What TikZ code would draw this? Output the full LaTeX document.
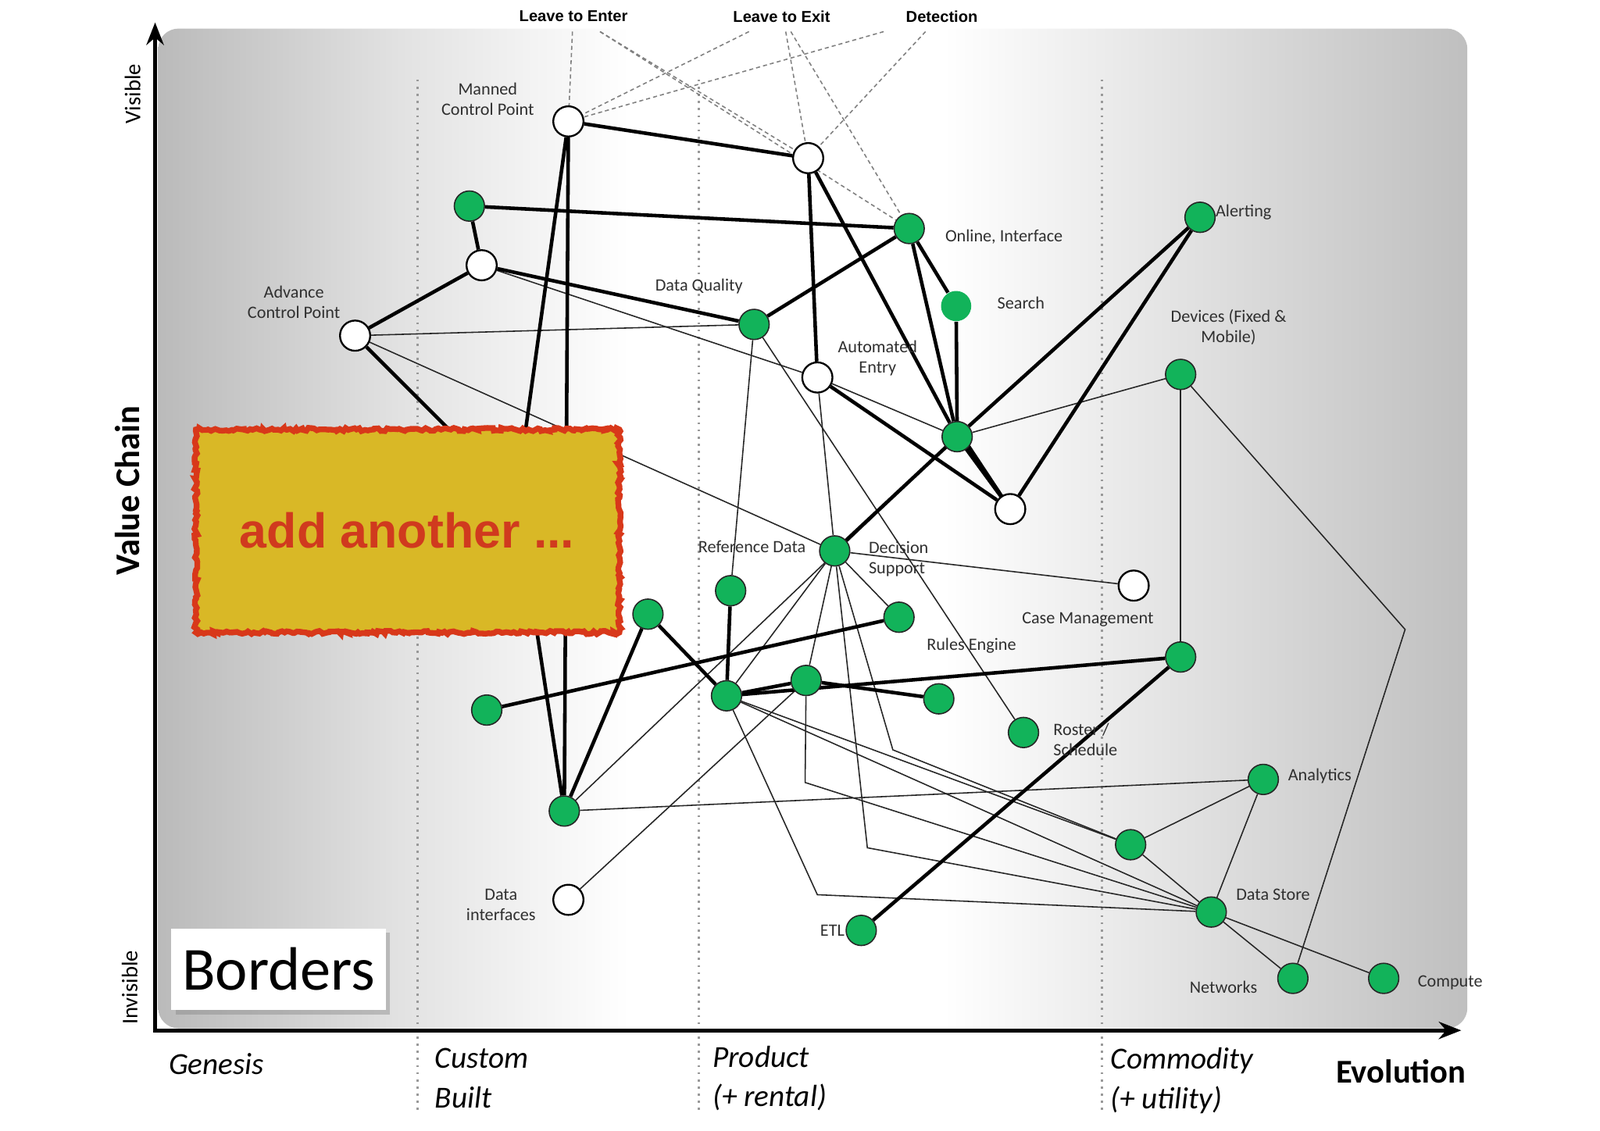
\documentclass[tikz,border=0pt]{standalone}
\usepackage{fontspec}
\setmainfont{Carlito}
\newfontfamily\arialf{Liberation Sans}
\usetikzlibrary{arrows.meta,shadows,decorations.pathmorphing,calc}
\definecolor{nodegreen}{HTML}{12B35A}
\definecolor{boxyellow}{HTML}{D9B826}
\definecolor{boxred}{HTML}{D8381A}
\definecolor{txtred}{HTML}{D03A1E}
\definecolor{labgray}{HTML}{303030}
\pgfdeclarelayer{bg}
\pgfdeclarelayer{edges}
\pgfsetlayers{bg,edges,main}
\pgfdeclarehorizontalshading{panelshade}{100bp}{color(0bp)=(gray!54!white); color(25bp)=(gray!54!white); color(34.5bp)=(gray!22!white); color(43bp)=(white); color(55bp)=(white); color(75bp)=(gray!50!white); color(100bp)=(gray!50!white)}
\tikzset{
  gn/.style={circle, fill=nodegreen, draw=black!85, line width=0.6pt, minimum size=14.8pt, inner sep=0pt},
  wn/.style={circle, fill=white, draw=black, line width=0.9pt, minimum size=14.8pt, inner sep=0pt},
  lab/.style={font=\fontsize{8.5}{10}\selectfont, text=labgray, align=center, inner sep=0pt},
  toplab/.style={font=\arialf\bfseries\fontsize{7.7}{9}\selectfont, inner sep=0pt},
  axlab/.style={font=\itshape\fontsize{15}{19.5}\selectfont, align=left, inner sep=0pt},
  thk/.style={line width=1.75pt, black},
  thn/.style={line width=0.6pt, black!85},
  dsh/.style={line width=0.6pt, gray, dash pattern=on 2pt off 1.5pt},
  sepline/.style={line width=1pt, gray!80, dash pattern=on 1pt off 2.5pt},
  axis/.style={line width=1.8pt, black, -{Stealth[length=11pt,width=8.5pt]}},
}
\begin{document}
\begin{tikzpicture}[x=0.5pt, y=-0.5pt]
\useasboundingbox (0,0) rectangle (1568,1108);

% background panel
\begin{pgfonlayer}{bg}
\shade[shading=panelshade, rounded corners=10pt] (155,28) rectangle (1438,1008);
\draw[sepline] (409,78) -- (409,1088);
\draw[sepline] (685,78) -- (685,1090);
\draw[sepline] (1080,78) -- (1080,1090);
\end{pgfonlayer}

% axes
\coordinate (origin) at (152,1010);
\coordinate (ytip) at (152,22);
\coordinate (xstart) at (150,1010);
\coordinate (xtip) at (1432,1010);
\draw[axis] ([yshift=-0.9pt]origin) -- (ytip);
\draw[axis] (xstart) -- (xtip);

% axis labels
\node[font=\fontsize{11}{13}\selectfont, rotate=90] (visible) at (130,92) {Visible};
\node[font=\bfseries\fontsize{17}{20}\selectfont, rotate=90] (vchain) at (125,481) {Value Chain};
\node[font=\fontsize{11}{13}\selectfont, rotate=90] (invisible) at (127,968) {Invisible};
\node[axlab] (genesis) at (212,1043) {Genesis};
\node[axlab, anchor=west] (custom) at (426,1057) {Custom\\Built};
\node[axlab, anchor=west] (product) at (698,1057) {Product\\(+ rental)};
\node[axlab, anchor=west] (commodity) at (1088,1059) {Commodity\\(+ utility)};
\node[font=\bfseries\fontsize{16.3}{19}\selectfont] (evolution) at (1373,1050) {Evolution};

% top labels
\node[toplab] (l2e) at (562,16) {Leave to Enter};
\node[toplab] (l2x) at (766,16) {Leave to Exit};
\node[toplab] (det) at (923,16) {Detection};
\coordinate (tE1) at (561,31);
\coordinate (tE2) at (588,31);
\coordinate (tX1) at (734,31);
\coordinate (tX2) at (770,31);
\coordinate (tX3) at (775,31);
\coordinate (tD1) at (866,31);
\coordinate (tD2) at (907,31);

% nodes
\node[wn] (mcp) at (557,119) {};
\node[wn] (le) at (792,155) {};
\node[wn] (wthree) at (472,260) {};
\node[wn] (acp) at (348,329) {};
\node[wn] (ae) at (801,370) {};
\node[wn] (wsix) at (990,499) {};
\node[wn] (cm) at (1111,574) {};
\node[wn] (di) at (557,882) {};

\node[gn] (gone) at (460,202) {};
\node[gn] (oi) at (891,224) {};
\node[gn, draw=none] (srch) at (937,300) {};
\node[gn] (dq) at (739,318) {};
\node[gn] (alert) at (1176,213) {};
\node[gn] (dev) at (1157,367) {};
\node[gn] (gseven) at (938,428) {};
\node[gn] (rd) at (818,540) {};
\node[gn] (gnine) at (716,579) {};
\node[gn] (gten) at (635,602) {};
\node[gn] (re) at (881,605) {};
\node[gn] (gtwelve) at (1157,644) {};
\node[gn] (gthirteen) at (477,696) {};
\node[gn] (gfourteen) at (712,682) {};
\node[gn] (gfifteen) at (790,667) {};
\node[gn] (gsixteen) at (920,685) {};
\node[gn] (roster) at (1003,718) {};
\node[gn] (analytics) at (1238,764) {};
\node[gn] (gnineteen) at (553,795) {};
\node[gn] (gtwenty) at (1108,828) {};
\node[gn] (dstore) at (1187,894) {};
\node[gn] (etl) at (844,912) {};
\node[gn] (networks) at (1267,959) {};
\node[gn] (compute) at (1356,959) {};

% bend points / hidden junction
\coordinate (hid) at (506,487);
\coordinate (bA) at (875,735);
\coordinate (bB) at (789,767);
\coordinate (bC) at (850,831);
\coordinate (bD) at (801,877);
\coordinate (bdev) at (1377,617);

% node labels
\node[lab] (lmcp) at (478,97) {Manned\\Control Point};
\node[lab] (lacp) at (288,296) {Advance\\Control Point};
\node[lab] (ldq) at (685,281) {Data Quality};
\node[lab, anchor=west] (loi) at (926,232) {Online, Interface};
\node[lab, anchor=west] (lsrch) at (977,297) {Search};
\node[lab] (lae) at (860,351) {Automated\\Entry};
\node[lab, anchor=west] (lalert) at (1191,208) {Alerting};
\node[lab] (ldev) at (1204,321) {Devices (Fixed \&\\Mobile)};
\node[lab] (lrd) at (737,536) {Reference Data};
\node[lab, align=left, anchor=west] (lds) at (851,548) {Decision\\Support};
\node[lab] (lcm) at (1066,607) {Case Management};
\node[lab] (lre) at (952,633) {Rules Engine};
\node[lab, align=left, anchor=west] (lroster) at (1032,725) {Roster /\\Schedule};
\node[lab, anchor=west] (lanalytics) at (1262,761) {Analytics};
\node[lab, anchor=west] (ldstore) at (1211,877) {Data Store};
\node[lab, anchor=east] (letl) at (828,912) {ETL};
\node[lab] (lnetworks) at (1199,968) {Networks};
\node[lab, anchor=west] (lcompute) at (1389,963) {Compute};
\node[lab] (ldi) at (491,887) {Data\\interfaces};

% connectors
\begin{pgfonlayer}{edges}
% dashed
\draw[dsh] (tE1) -- (mcp);
\draw[dsh] (tE2) -- (le);
\draw[dsh] (tE2) -- (oi);
\draw[dsh] (tX1) -- (mcp);
\draw[dsh] (tX2) -- (le);
\draw[dsh] (tX3) -- (oi);
\draw[dsh] (tD1) -- (mcp);
\draw[dsh] (tD2) -- (le);
% thin
\draw[thn] (acp) -- (dq);
\draw[thn] (acp) -- (rd);
\draw[thn] (wthree) -- (ae);
\draw[thn] (ae) -- (gseven);
\draw[thn] (ae) -- (rd);
\draw[thn] (dq) -- (gnine);
\draw[thn] (dq) -- (roster);
\draw[thn] (gseven) -- (dev);
\draw[thn] (dev) -- (gtwelve);
\draw[thn] (dev) -- (bdev) -- (networks);
\draw[thn] (gnineteen.center) -- (gseven.center);
\draw[thn] (rd) -- (cm);
\draw[thn] (rd) -- (re);
\draw[thn] (rd) -- (gfifteen);
\draw[thn] (rd) -- (gfourteen);
\draw[thn] (rd) -- (bA) -- (gtwenty);
\draw[thn] (rd) -- (bC) -- (dstore);
\draw[thn] (gfifteen) -- (bB) -- (dstore);
\draw[thn] (gfourteen) -- (bD) -- (dstore);
\draw[thn] (gfourteen) -- (dstore);
\draw[thn] (gfourteen) -- (gtwenty);
\draw[thn] (di) -- (gfifteen);
\draw[thn] (gnineteen) -- (analytics);
\draw[thn] (gtwenty) -- (analytics);
\draw[thn] (gtwenty) -- (dstore);
\draw[thn] (analytics) -- (dstore);
\draw[thn] (dstore) -- (networks);
\draw[thn] (dstore) -- (compute);
% thick
\draw[thk] (mcp) -- (le);
\draw[thk] (mcp) -- (gnineteen);
\draw[thk] (mcp) -- (hid) -- (gnineteen);
\draw[thk] (acp) -- (hid);
\draw[thk] (gone) -- (oi);
\draw[thk] (gone) -- (wthree);
\draw[thk] (wthree) -- (acp);
\draw[thk] (wthree) -- (dq);
\draw[thk] (dq) -- (oi);
\draw[thk] (le) -- (ae);
\draw[thk] (le) -- (gseven);
\draw[thk] (oi) -- (gseven);
\draw[thk] (oi) -- (srch);
\draw[thk] (srch) -- (gseven);
\draw[thk] (gseven.center) -- (wsix.center);
\draw[thk] ([xshift=2.5pt]gseven.center) -- (wsix.center);
\draw[thk] (ae) -- (wsix);
\draw[thk] (wsix) -- (alert);
\draw[thk] (gseven) -- (alert);
\draw[thk] (rd.center) -- (gseven.center);
\draw[thk] (gtwelve) -- (etl);
\draw[thk] (gtwelve) -- (gfourteen);
\draw[thk] (gfourteen) -- (gfifteen);
\draw[thk] (gfifteen) -- (gsixteen);
\draw[thk] (gthirteen) -- (re);
\draw[thk] (gten) -- (gnineteen);
\draw[thk] (gten) -- (gfourteen);
\draw[thk] (gnine) -- (gfourteen);
\end{pgfonlayer}

% "add another ..." box
\draw[boxred, line width=2.8pt, fill=boxyellow, decorate,
      decoration={random steps, segment length=1.3pt, amplitude=0.8pt}]
  (192,421) rectangle (607,620);
\node[font=\arialf\bfseries\fontsize{24}{28}\selectfont, text=txtred] (addanother) at (399,520) {add another ...};

% Borders box
\node[fill=white, minimum width=105pt, minimum height=40pt, inner sep=0pt,
      drop shadow={shadow xshift=2pt, shadow yshift=-2.2pt, opacity=0.4},
      font=\fontsize{30}{34}\selectfont] (borders) at (273,950) {Borders};
\end{tikzpicture}
\end{document}
